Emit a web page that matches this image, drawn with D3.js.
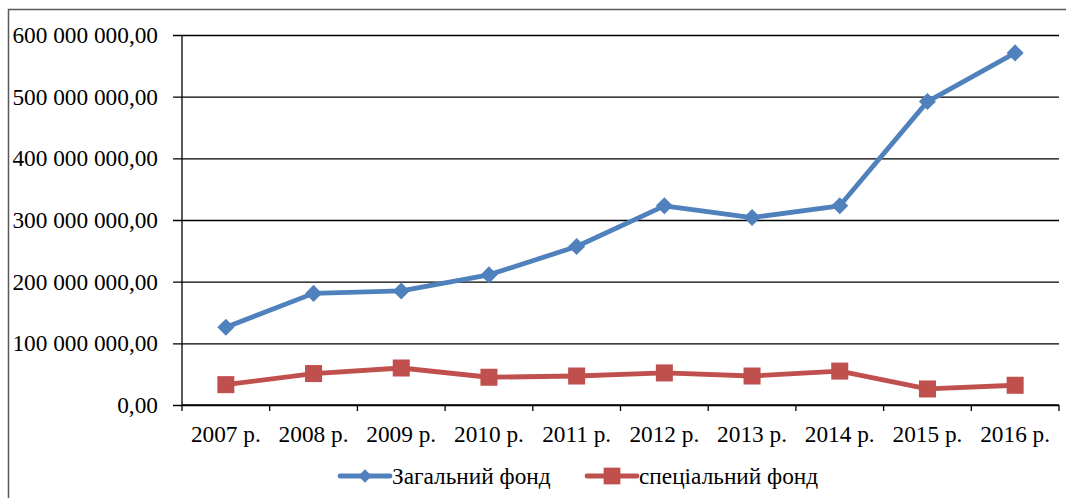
<!DOCTYPE html>
<html>
<head>
<meta charset="utf-8">
<script src="https://cdn.jsdelivr.net/npm/d3@7"></script>
<style>
  body { margin: 0; background: #fff; }
  svg text { font-family: "Liberation Serif", Tinos, "Times New Roman", "DejaVu Serif", serif !important; fill: #000; }
</style>
</head>
<body>
<svg></svg>
<script>
// chart data
var years = ["2007 р.", "2008 р.", "2009 р.", "2010 р.", "2011 р.",
    "2012 р.", "2013 р.", "2014 р.", "2015 р.", "2016 р."]
var generalFund = [126000000, 181000000, 185000000, 211000000, 257000000,
    323000000, 304000000, 323000000, 492000000, 571000000]
var specialFund = [33000000, 51000000, 60000000, 45000000, 47000000,
    52000000, 47000000, 55000000, 26000000, 32000000]
var yTicks = [0, 100000000, 200000000, 300000000, 400000000, 500000000, 600000000]
var seriesNames = ["Загальний фонд", "спеціальний фонд"]

var screen = { width: 1066, height: 498 }
var margins = { left: 182, right: 7, top: 35, bottom: 93 }
var graph = {
    width: screen.width - margins.left - margins.right,
    height: screen.height - margins.top - margins.bottom
}
var fontSize = 23.3

var svg = d3.select("svg")
    .attr("width", screen.width)
    .attr("height", screen.height)

// outer frame (right and bottom edges fall outside the picture)
svg.append("rect")
    .attr("x", 8.5)
    .attr("y", 9.5)
    .attr("width", 1100)
    .attr("height", 600)
    .attr("fill", "none")
    .attr("stroke", "#595959")
    .attr("stroke-width", 1.5)

var xScale = d3.scaleBand()
    .domain(years)
    .range([0, graph.width])

var yScale = d3.scaleLinear()
    .domain([0, 600000000])
    .range([graph.height, 0])

var fmt = function (v) {
    var s = d3.format(",.2f")(v)
    return s.replace(/,/g, " ").replace(".", ",")
}

var target = svg.append("g")
    .attr("transform", "translate(" + margins.left + "," + margins.top + ")")

// gridlines + y axis
var yAxis = d3.axisLeft(yScale)
    .tickValues(yTicks)
    .tickFormat(fmt)
    .tickSize(-graph.width)
var yg = target.append("g").call(yAxis)
    .attr("font-family", null)
yg.select(".domain").remove()
yg.selectAll(".tick line")
    .attr("x1", -9)
    .attr("stroke", "#000")
    .attr("stroke-width", 1.3)
yg.selectAll(".tick text")
    .attr("font-size", fontSize)
    .attr("x", -24)
target.append("line")
    .attr("x1", 0).attr("x2", 0)
    .attr("y1", 0).attr("y2", graph.height)
    .attr("stroke", "#000")
    .attr("stroke-width", 1.3)

// x axis with ticks between categories
var xg = target.append("g")
    .attr("transform", "translate(0," + graph.height + ")")
xg.append("line")
    .attr("x1", 0).attr("x2", graph.width)
    .attr("stroke", "#000")
    .attr("stroke-width", 1.3)
xg.selectAll(".xtick")
    .data(d3.range(years.length + 1))
    .enter()
    .append("line")
    .attr("x1", function (i) { return i * xScale.step() })
    .attr("x2", function (i) { return i * xScale.step() })
    .attr("y1", 0).attr("y2", 6)
    .attr("stroke", "#000")
    .attr("stroke-width", 1.3)
xg.selectAll(".xlabel")
    .data(years)
    .enter()
    .append("text")
    .text(function (d) { return d })
    .attr("x", function (d) { return xScale(d) + xScale.bandwidth() / 2 })
    .attr("y", 37)
    .attr("text-anchor", "middle")
    .attr("font-size", fontSize)

var cx = function (d, i) { return xScale(years[i]) + xScale.bandwidth() / 2 }

var lineGenerator = d3.line()
    .x(cx)
    .y(function (d) { return yScale(d) })

var series = [
    { name: seriesNames[0], values: generalFund, color: "#4F81BD", size: 145, legendSize: 88, rot: 45 },
    { name: seriesNames[1], values: specialFund, color: "#C0504D", size: 290, legendSize: 280, rot: 0 }
]

series.forEach(function (s) {
    target.append("path")
        .datum(s.values)
        .attr("d", lineGenerator)
        .attr("fill", "none")
        .attr("stroke", s.color)
        .attr("stroke-width", 4.8)
        .attr("stroke-linejoin", "round")
    target.selectAll(null)
        .data(s.values)
        .enter()
        .append("path")
        .attr("d", d3.symbol().type(d3.symbolSquare).size(s.size))
        .attr("transform", function (d, i) {
            return "translate(" + cx(d, i) + "," + yScale(d) + ") rotate(" + s.rot + ")"
        })
        .attr("fill", s.color)
})

// legend
var legendX = [340, 587]
var legend = svg.append("g")
series.forEach(function (s, i) {
    var g = legend.append("g")
        .attr("transform", "translate(" + legendX[i] + ",476)")
    g.append("line")
        .attr("x1", 0).attr("x2", 50)
        .attr("stroke", s.color)
        .attr("stroke-width", 4.8)
        .attr("stroke-linecap", "round")
    g.append("path")
        .attr("d", d3.symbol().type(d3.symbolSquare).size(s.legendSize))
        .attr("transform", "translate(25,0) rotate(" + s.rot + ")")
        .attr("fill", s.color)
    g.append("text")
        .text(s.name)
        .attr("x", 52)
        .attr("y", 8)
        .attr("font-size", fontSize)
})
</script>
</body>
</html>
